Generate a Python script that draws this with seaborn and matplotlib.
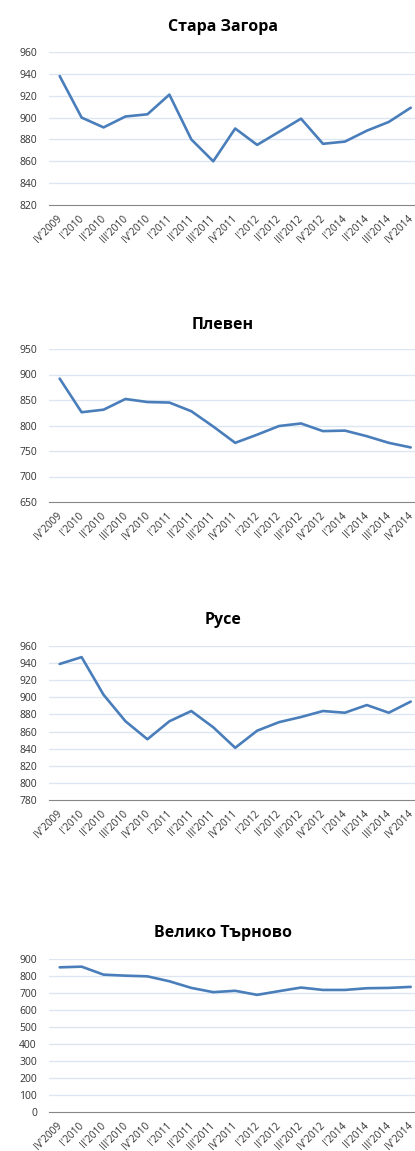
import matplotlib
matplotlib.use("Agg")
import matplotlib.pyplot as plt
import seaborn as sns
import pandas as pd
import numpy as np

quarters = ["IV'2009", "I'2010", "II'2010", "III'2010", "IV'2010", "I'2011",
            "II'2011", "III'2011", "IV'2011", "I'2012", "II'2012", "III'2012",
            "IV'2012", "I'2014", "II'2014", "III'2014", "IV'2014"]

stara_zagora = [938, 900, 891, 901, 903, 921, 880, 860, 890, 875, 887, 899, 876, 878, 888, 896, 909]
pleven = [892, 826, 831, 852, 846, 845, 828, 798, 766, 782, 799, 804, 789, 790, 779, 766, 757]
ruse = [939, 947, 903, 872, 851, 872, 884, 865, 841, 861, 871, 877, 884, 882, 891, 882, 895]
veliko_tarnovo = [851, 855, 808, 802, 798, 769, 730, 705, 713, 689, 711, 732, 718, 718, 728, 730, 736]

titles = ["Стара Загора", "Плевен", "Русе", "Велико Търново"]
series = [stara_zagora, pleven, ruse, veliko_tarnovo]
y_ranges = [(820, 960, 20), (650, 950, 50), (780, 960, 20), (0, 900, 100)]

# plot area top / bottom and title y, in pixels
boxes = [(52, 205, 27), (349, 502, 325), (646, 800, 620), (959, 1112, 933)]

sns.set_theme(style="white")
plt.rcParams['font.family'] = ['Open Sans', 'DejaVu Sans']

W, H = 415, 1151
fig = plt.figure(figsize=(W / 100, H / 100), dpi=100)

line_color = "#4A7EBB"
grid_color = "#DCE6F2"
axis_color = "#868686"
text_color = "#333333"

x_left = 48.7
step = 21.94
n = len(quarters)
for title, vals, (lo, hi, st), (top, bot, ty) in zip(titles, series, y_ranges, boxes):
    ax = fig.add_axes([x_left / W, 1 - bot / H, step * n / W, (bot - top) / H])
    df = pd.DataFrame({"q": range(n), "v": vals})
    sns.lineplot(data=df, x="q", y="v", ax=ax, color=line_color, linewidth=1.9)
    ax.set_xlim(-0.5, n - 0.5)
    ax.set_ylim(lo, hi)
    ticks = np.arange(lo, hi + st, st)
    ax.set_yticks(ticks)
    ax.set_yticklabels([str(t) for t in ticks], fontsize=7.5, color=text_color)
    for t in ticks[1:]:
        ax.axhline(t, color=grid_color, linewidth=1.0, zorder=0)
    # label anchors nudged slightly left so the last label stays inside the figure
    ax.set_xticks(np.arange(n) - 0.15)
    ax.set_xticklabels(quarters, rotation=45, ha="right", rotation_mode="anchor",
                       fontsize=7.3, color=text_color)
    ax.set_xticks(np.arange(-0.5, n, 1.0), minor=True)
    ax.tick_params(axis="x", which="major", length=0, pad=6)
    ax.tick_params(axis="x", which="minor", length=4, color=axis_color, width=0.8)
    ax.tick_params(axis="y", length=0, pad=8.5)
    ax.set_xlabel("")
    ax.set_ylabel("")
    for s in ["top", "right", "left"]:
        ax.spines[s].set_visible(False)
    ax.spines["bottom"].set_color(axis_color)
    ax.spines["bottom"].set_linewidth(0.8)
    fig.text(223 / W, 1 - ty / H, title, ha="center", va="center",
             fontsize=11.5, fontweight="bold", color="black")

fig.savefig("out.png", dpi=100)
